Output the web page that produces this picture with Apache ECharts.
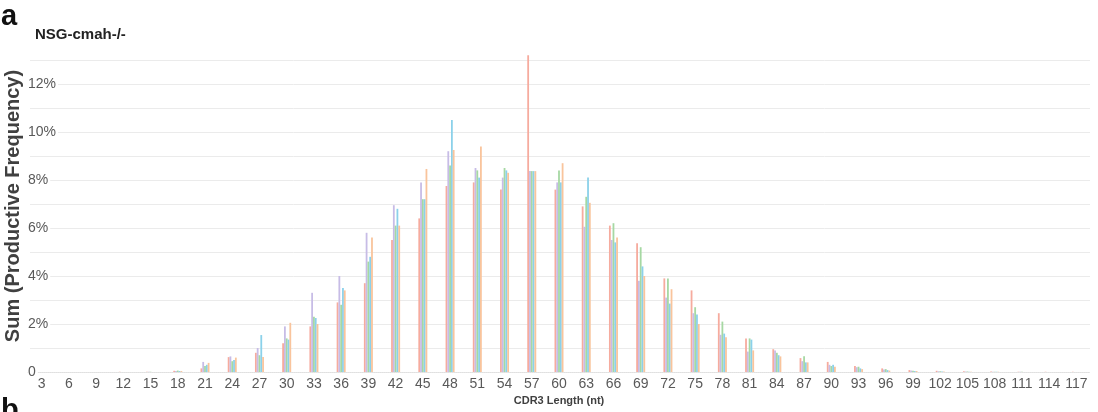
<!DOCTYPE html>
<html>
<head>
<meta charset="utf-8">
<script src="https://cdn.jsdelivr.net/npm/echarts@6/dist/echarts.min.js"></script>
<style>
html,body{margin:0;padding:0;background:#fff;}
#chart{width:1098px;height:412px;}
</style>
</head>
<body>
<div id="chart"></div>
<script>
// CDR3 length categories (nt)
const categories = ['3','6','9','12','15','18','21','24','27','30','33','36','39','42','45','48','51','54','57','60','63','66','69','72','75','78','81','84','87','90','93','96','99','102','105','108','111','114','117'];
// Productive frequency (%) per mouse sample
const pinkVals   = [0,0,0,0.01,0.01,0.05,0.15,0.62,0.8,1.2,1.9,2.9,3.7,5.5,6.4,7.75,7.9,7.6,13.2,7.6,6.9,6.1,5.36,3.9,3.4,2.45,1.4,0.95,0.58,0.42,0.25,0.15,0.08,0.05,0.03,0.02,0.01,0.01,0.01];
const purpleVals = [0,0,0,0,0.01,0.04,0.42,0.65,1.0,1.9,3.3,4.0,5.8,6.95,7.9,9.2,8.5,8.1,8.37,7.9,6.05,5.5,3.8,3.1,2.45,1.55,0.85,0.9,0.45,0.3,0.2,0.1,0.06,0.03,0.02,0.01,0.01,0,0];
const greenVals  = [0,0,0,0,0.01,0.06,0.25,0.45,0.7,1.4,2.3,2.8,4.6,6.1,7.2,8.6,8.4,8.5,8.37,8.4,7.3,6.2,5.2,3.9,2.7,2.1,1.4,0.8,0.66,0.25,0.22,0.12,0.05,0.03,0.02,0.01,0.01,0,0];
const blueVals   = [0,0,0,0,0,0.04,0.3,0.5,1.54,1.35,2.25,3.5,4.8,6.8,7.2,10.5,8.1,8.4,8.37,7.9,8.1,5.4,4.4,2.85,2.4,1.6,1.35,0.7,0.4,0.3,0.15,0.08,0.04,0.02,0.01,0.01,0,0,0];
const orangeVals = [0,0,0,0,0,0.04,0.38,0.6,0.62,2.05,2.0,3.4,5.6,6.1,8.46,9.25,9.4,8.3,8.37,8.7,7.05,5.6,4.0,3.45,2.0,1.45,0.9,0.65,0.4,0.22,0.12,0.06,0.04,0.02,0.01,0.01,0,0,0];
const yTicks = [0,2,4,6,8,10,12];

const seriesDefs = [
  {name:'S1', data:pinkVals,   color:'#f6ab9e'},
  {name:'S2', data:purpleVals, color:'#c7bce6'},
  {name:'S3', data:greenVals,  color:'#a6d8a3'},
  {name:'S4', data:blueVals,   color:'#8bd1ea'},
  {name:'S5', data:orangeVals, color:'#f9c49c'}
];

const chart = echarts.init(document.getElementById('chart'), null, {renderer:'canvas'});
const font = 'Liberation Sans, Arial, sans-serif';
chart.setOption({
  animation:false,
  backgroundColor:'#fff',
  textStyle:{fontFamily:font},
  grid:{left:28, right:8, top:60, bottom:40, containLabel:false, outerBoundsMode:'none'},
  graphic:[
    {type:'text', x:1, y:17, style:{text:'a', font:'bold 29px '+font, fill:'#111', textVerticalAlign:'middle', verticalAlign:'middle'}},
    {type:'text', x:35, y:35, style:{text:'NSG-cmah-/-', font:'bold 15px '+font, fill:'#222', textVerticalAlign:'middle', verticalAlign:'middle'}},
    {type:'text', x:1, y:411, style:{text:'b', font:'bold 29px '+font, fill:'#111', textVerticalAlign:'middle', verticalAlign:'middle'}},
    {type:'text', x:13, y:206, rotation:Math.PI/2, style:{text:'Sum (Productive Frequency)', font:'bold 20px '+font, fill:'#404040', align:'center', textAlign:'center', verticalAlign:'middle', textVerticalAlign:'middle'}}
  ],
  xAxis:{
    type:'category',
    data:categories,
    axisTick:{show:false},
    axisLine:{show:true, lineStyle:{color:'#e0e0e0', type:'dotted'}},
    axisLabel:{color:'#595959', fontSize:14, margin:5, interval:0, fontFamily:font},
    name:'CDR3 Length (nt)',
    nameLocation:'middle',
    nameGap:23,
    nameTextStyle:{fontWeight:'bold', fontSize:11, color:'#404040', fontFamily:font}
  },
  yAxis:{
    type:'value',
    min:0, max:13, interval:1,
    axisLine:{show:false},
    axisTick:{show:false},
    splitLine:{lineStyle:{color:'#ebebeb', width:1}},
    axisLabel:{
      inside:true, margin:0, color:'#595959', fontSize:14, fontFamily:font,
      backgroundColor:'#fff', padding:[0,2,4,0],
      formatter:function(v){ if(v===0) return '0'; return yTicks.indexOf(v)>=0 ? v+'%' : ''; }
    }
  },
  series: seriesDefs.map(s=>({
    type:'bar', name:s.name, data:s.data,
    barWidth:1.8, barGap:'0%',
    clip:false,
    itemStyle:{color:s.color}
  }))
});
</script>
</body>
</html>
